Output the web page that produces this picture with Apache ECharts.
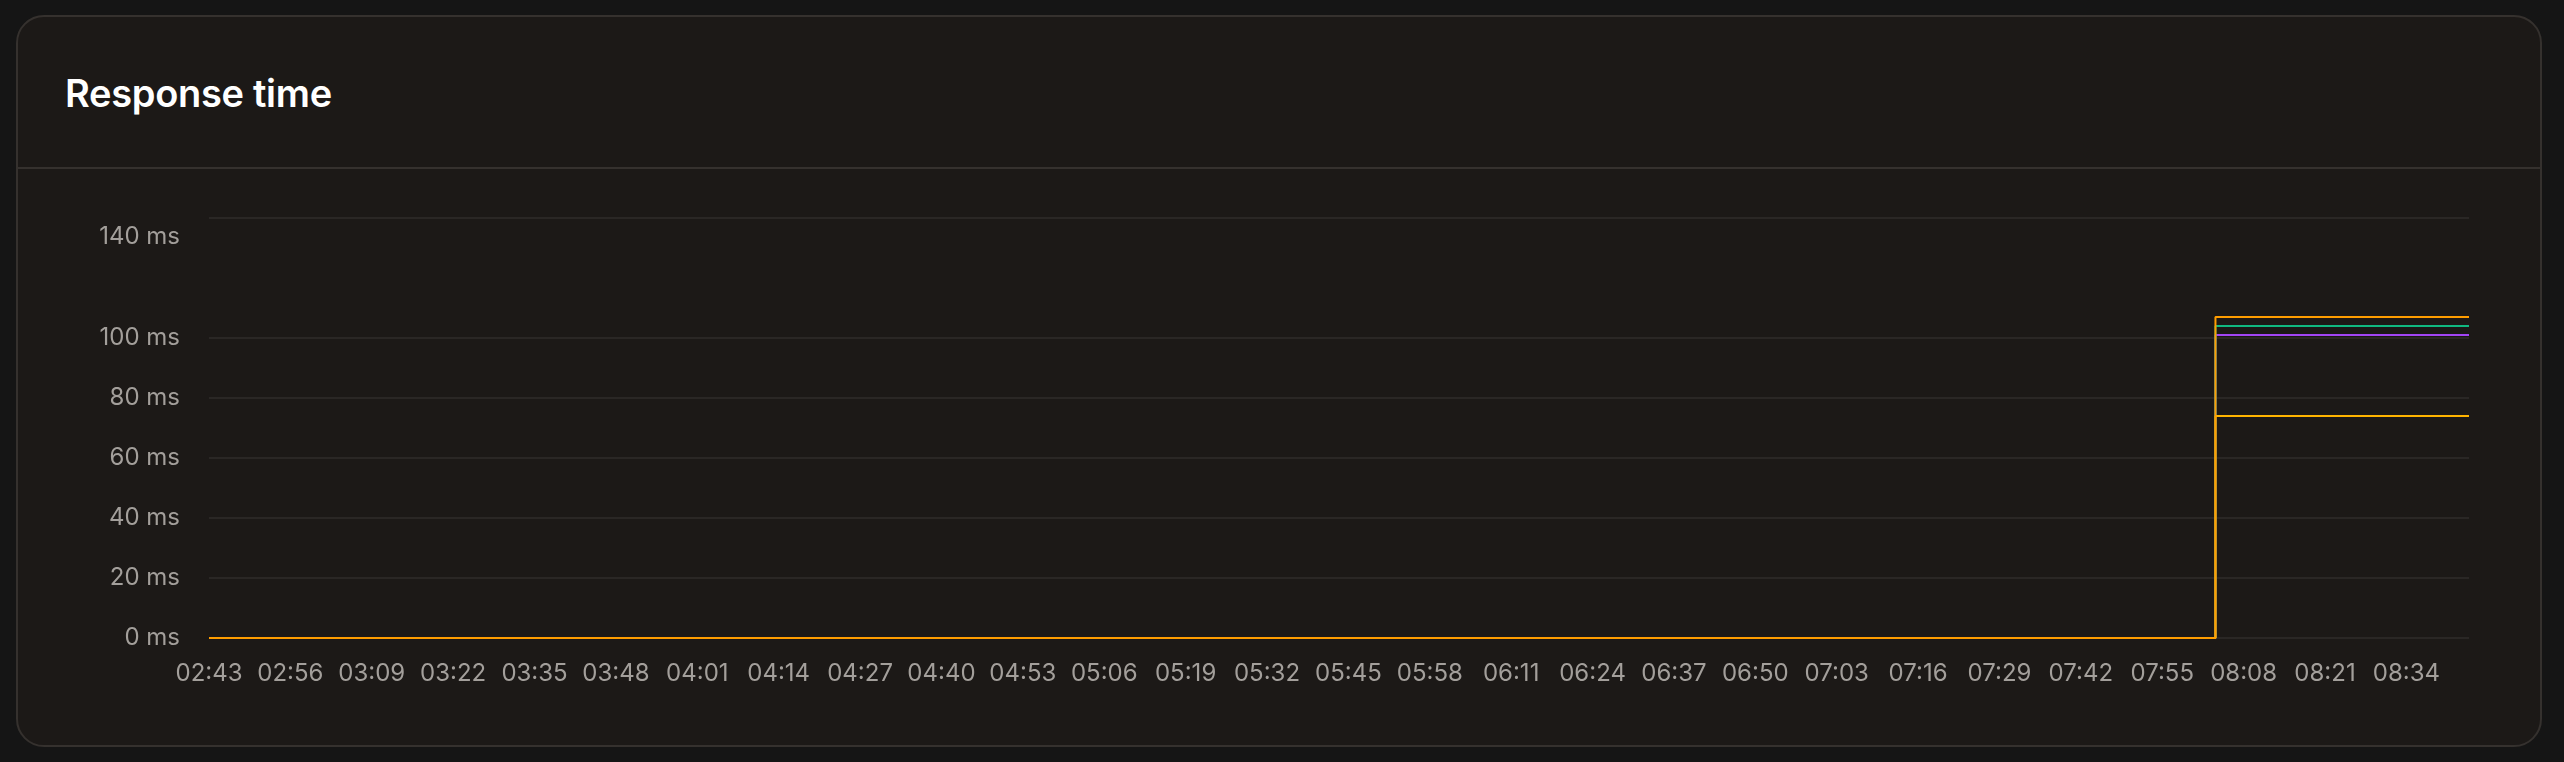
<!DOCTYPE html>
<html>
<head>
<meta charset="utf-8">
<title>Response time</title>
<script src="https://cdn.jsdelivr.net/npm/echarts@6/dist/echarts.min.js"></script>
<style>
  html, body { margin: 0; padding: 0; background: #151515; }
  body { width: 2564px; height: 762px; position: relative; overflow: hidden; font-family: Inter, "Noto Sans", sans-serif; }
  .card {
    position: absolute; left: 16px; top: 15px; width: 2526px; height: 732px;
    box-sizing: border-box; border: 2px solid #35312e; border-radius: 28px;
    background: #1c1917;
  }
  .card-header {
    position: absolute; left: 0; top: 0; right: 0; height: 150px;
    border-bottom: 2px solid #35312e;
  }
  .card-header h2 {
    position: absolute; left: 47px; top: 57px; margin: 0;
    font-size: 38px; line-height: 38px; font-weight: 600; letter-spacing: -0.3px;
    color: #ffffff;
  }
  #chart { position: absolute; left: 18px; top: 170px; width: 2522px; height: 575px; }
</style>
</head>
<body>
<div class="card">
  <div class="card-header"><h2>Response time</h2></div>
</div>
<div id="chart"></div>
<script>
// x values are minutes after 02:43, one sample a minute up to 08:44
const tickLabels = ['02:43', '02:56', '03:09', '03:22', '03:35', '03:48', '04:01', '04:14',
  '04:27', '04:40', '04:53', '05:06', '05:19', '05:32', '05:45', '05:58', '06:11', '06:24',
  '06:37', '06:50', '07:03', '07:16', '07:29', '07:42', '07:55', '08:08', '08:21', '08:34']
const lastMinute = 361

// [minute, ms] change points
const p50 = [[0, 0], [320, 0], [321, 74], [361, 74]]
const p90 = [[0, 0], [320, 0], [321, 101], [361, 101]]
const p95 = [[0, 0], [320, 0], [321, 104], [361, 104]]
const p99 = [[0, 0], [320, 0], [321, 107], [361, 107]]

const yTicks = [0, 20, 40, 60, 80, 100, 120, 140]
const hiddenTick = 120

const grid = '#2a2725'
const labelColor = '#a39f9b'

const chart = echarts.init(document.getElementById('chart'))

function line(name, data, color) {
  return {
    name: name,
    type: 'line',
    step: 'middle',
    data: data,
    symbol: 'none',
    lineStyle: { width: 2, color: color },
    itemStyle: { color: color },
    animation: false
  }
}

chart.setOption({
  backgroundColor: 'transparent',
  textStyle: { fontFamily: 'Inter, "Noto Sans", sans-serif' },
  grid: { left: 191, top: 48, width: 2260, height: 420 },
  xAxis: {
    type: 'value',
    min: 0,
    max: lastMinute,
    interval: 13,
    axisLine: { show: false },
    axisTick: { show: false },
    splitLine: { show: false },
    axisLabel: {
      color: labelColor,
      fontSize: 24,
      lineHeight: 24,
      margin: 24,
      showMaxLabel: false,
      formatter: v => (v % 13 === 0 && tickLabels[v / 13]) || ''
    }
  },
  yAxis: {
    type: 'value',
    min: yTicks[0],
    max: yTicks[yTicks.length - 1],
    interval: 20,
    axisLine: { show: false },
    axisTick: { show: false },
    splitLine: {
      lineStyle: {
        width: 2,
        color: yTicks.map(t => t === hiddenTick ? 'rgba(0,0,0,0)' : grid)
      }
    },
    axisLabel: {
      color: labelColor,
      fontSize: 24,
      margin: 29,
      formatter: v => {
        if (v === hiddenTick) return ''
        if (v === yTicks[yTicks.length - 1]) return '{top|' + v + ' ms}'
        return v + ' ms'
      },
      rich: {
        top: { color: labelColor, fontSize: 24, padding: [37, 0, 0, 0] }
      }
    }
  },
  series: [
    line('p90', p90, '#a245f5'),
    line('p95', p95, '#10b981'),
    line('p50', p50, '#ffb400'),
    line('p99', p99, '#ff9d00')
  ]
})
</script>
</body>
</html>
